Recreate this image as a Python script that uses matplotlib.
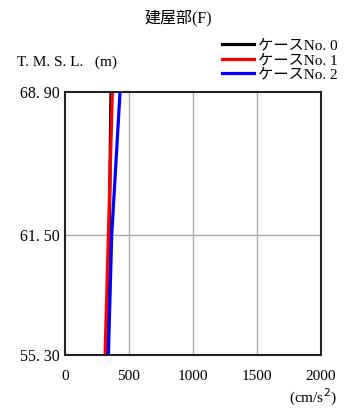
import matplotlib
matplotlib.use("Agg")
import matplotlib.pyplot as plt

elev = [55.30, 61.50, 68.90]
case0 = [326, 346, 359]
case1 = [313, 339, 370]
case2 = [339, 365, 430]
labels = ["ケースNo. 0", "ケースNo. 1", "ケースNo. 2"]
colors = ["black", "red", "blue"]
ytick_labels = ["55. 30", "61. 50", "68. 90"]
xticks = [0, 500, 1000, 1500, 2000]

FAM = ["Liberation Serif", "Noto Sans CJK JP", "DejaVu Sans"]
plt.rcParams['font.family'] = FAM

fig = plt.figure(figsize=(3.44, 4.12), dpi=100)
ax = fig.add_axes([65/344, 57/412, 256/344, 263/412])

for vals, c, lab in zip([case0, case1, case2], colors, labels):
    ax.plot(vals, elev, color=c, lw=2.3, label=lab)

ax.set_xlim(0, 2000)
ax.set_ylim(55.30, 68.90)
ax.set_xticks(xticks)
ax.set_xticklabels([str(v) for v in xticks], fontsize=11)
ax.set_yticks(elev)
ax.set_yticklabels(ytick_labels, fontsize=11.5)
ax.tick_params(axis="x", length=0, pad=11)
ax.tick_params(axis="y", length=0, pad=4)
for v in [500, 1000, 1500]:
    ax.axvline(v, color="#aaaaaa", lw=1, zorder=0)
ax.axhline(61.50, color="#aaaaaa", lw=1, zorder=0)
for s in ax.spines.values():
    s.set_linewidth(1.5)
    s.set_color("#222222")

fig.text(178/344, 1 - 18/412, "建屋部(F)", ha="center", va="center", fontsize=11.5)
fig.text(17/344, 1 - 62/412, "T. M. S. L.   (m)", ha="left", va="center", fontsize=11)
fig.text(337/344, 1 - 397/412, "(cm/s$^2$)", ha="right", va="center", fontsize=11)

fig.legend(loc="upper left", bbox_to_anchor=(222/344, 1 - 39/412), frameon=False,
           fontsize=11, handlelength=2.1, handletextpad=0.25, labelspacing=0.05,
           borderpad=0, borderaxespad=0)

fig.savefig("out.png", dpi=100)
